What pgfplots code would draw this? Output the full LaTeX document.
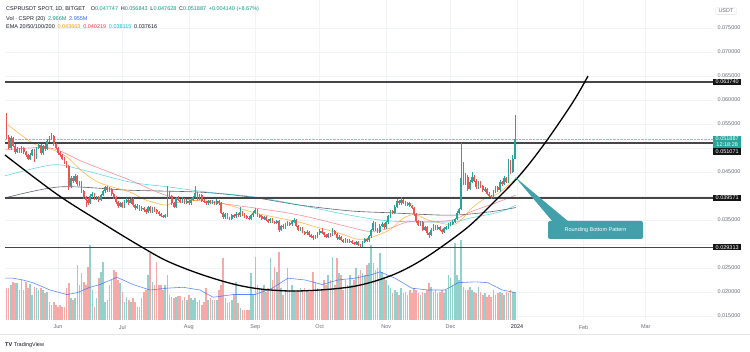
\documentclass[border=0pt]{standalone}
\usepackage{pgfplots}
\pgfplotsset{compat=1.18}
\usepackage{pgfplotstable}
\usepackage{fontspec}
\setmainfont{Liberation Sans}
\definecolor{upc}{RGB}{38,166,154}
\definecolor{dnc}{RGB}{239,83,80}
\definecolor{volup}{RGB}{146,210,204}
\definecolor{voldn}{RGB}{247,169,167}
\definecolor{ema20}{RGB}{255,152,0}
\definecolor{ema50}{RGB}{242,54,69}
\definecolor{ema100}{RGB}{0,188,212}
\definecolor{ema200}{RGB}{67,70,81}
\definecolor{volma}{RGB}{41,98,255}
\definecolor{gridc}{RGB}{240,243,250}
\definecolor{labc}{RGB}{106,109,120}
\definecolor{txt}{RGB}{19,23,34}
\definecolor{callc}{RGB}{66,160,170}
\definecolor{hdrg}{RGB}{8,153,129}
\definecolor{lvl}{RGB}{70,70,70}
\newcommand{\fs}{\fontsize{5.5}{6.5}\selectfont}

\pgfplotstableread{
d o h l c v
-24 569 573 518 523 3.5
-23 523 528 497 500 3.5
-22 500 524 496 520 3.9
-21 520 523 502 505 4.2
-20 505 509 488 492 4.1
-19 492 502 489 498 4.1
-18 498 501 490 493 3.3
-17 493 504 490 500 4.4
-16 500 502 488 491 3.3
-15 491 494 482 485 4.2
-14 485 488 474 478 3.5
-13 478 490 475 486 4.0
-12 486 498 483 495 2.8
-11 495 497 470 480 3.6
-10 480 503 477 500 3.5
-9 500 510 497 506 3.3
-8 506 508 486 490 3.5
-7 490 507 486 505 3.3
-6 505 508 494 498 3.0
-5 498 518 495 515 3.1
-4 515 524 512 520 2.0
-3 520 531 517 525 1.7
-2 525 527 504 508 2.0
-1 508 511 497 500 1.7
0 500 503 486 490 1.4
1 490 494 482 485 1.7
2 485 488 475 478 1.4
3 478 481 467 470 1.4
4 470 473 458 462 3.5
5 462 465 412 420 4.1
6 420 442 416 438 2.4
7 438 441 428 432 2.2
8 432 445 429 441 2.4
9 441 444 421 425 6.1
10 425 432 421 428 3.9
11 428 431 406 410 5.2
12 410 413 394 398 4.2
13 398 401 377 392 3.9
14 392 395 382 386 5.8
15 386 404 383 400 8.3
16 400 408 396 404 3.3
17 404 406 391 395 1.4
18 395 401 392 398 2.4
19 398 400 388 392 4.6
20 392 405 389 402 5.3
21 402 413 399 410 6.4
22 410 421 407 418 2.0
23 418 420 408 412 2.2
24 412 418 409 415 3.9
25 415 417 401 405 4.4
26 405 407 394 398 5.5
27 398 400 384 388 5.3
28 388 390 376 380 4.4
29 380 388 377 385 4.1
30 385 387 374 378 3.1
31 378 391 375 388 2.0
32 388 395 385 392 2.5
33 392 394 382 386 2.2
34 386 397 383 394 2.0
35 394 396 378 382 2.4
36 382 384 371 375 2.0
37 375 384 372 380 1.4
38 380 382 368 372 1.4
39 372 379 369 376 2.4
40 376 378 366 370 3.1
41 370 372 363 366 3.3
42 366 380 364 377 5.0
43 377 379 364 368 7.4
44 368 378 365 375 4.2
45 375 377 367 370 3.9
46 370 372 363 366 6.4
47 366 368 359 362 3.9
48 362 364 356 359 3.9
49 359 361 354 357 3.3
50 357 363 354 360 3.9
51 360 421 357 405 5.0
52 405 410 396 400 2.8
53 400 403 382 385 2.5
54 385 388 375 378 2.4
55 378 398 375 395 2.5
56 395 399 389 392 2.6
57 392 394 385 388 2.6
58 388 397 385 394 2.2
59 394 396 383 386 2.5
60 386 393 383 390 2.2
61 390 392 382 385 2.8
62 385 395 382 392 2.4
63 392 401 389 398 2.2
64 398 421 395 406 2.4
65 406 409 392 395 2.0
66 395 405 392 402 2.2
67 402 404 387 390 1.7
68 390 393 385 388 2.0
69 388 390 382 385 3.5
70 385 392 382 389 2.2
71 389 391 383 386 2.4
72 386 391 383 388 2.2
73 388 390 381 384 2.2
74 384 393 381 390 2.2
75 390 392 382 385 3.3
76 385 387 362 365 3.9
77 365 367 352 356 6.8
78 356 365 353 362 2.4
79 362 364 352 355 1.9
80 355 357 349 352 2.0
81 352 363 350 360 2.2
82 360 362 355 358 2.8
83 358 366 355 363 4.2
84 363 365 357 360 1.9
85 360 377 357 366 1.3
86 366 368 359 362 1.1
87 362 364 355 358 1.1
88 358 360 352 355 1.1
89 355 358 350 353 1.1
90 353 363 350 360 5.2
91 360 368 357 365 2.8
92 365 375 362 370 6.9
93 370 372 357 360 3.9
94 360 363 355 358 3.5
95 358 360 349 352 3.3
96 352 359 349 356 3.9
97 356 358 347 350 3.1
98 350 352 344 347 3.5
99 347 355 344 352 6.8
100 352 354 343 346 4.4
101 346 348 341 344 5.8
102 344 351 341 348 5.3
103 348 350 325 330 7.5
104 330 340 327 338 3.5
105 338 341 332 335 2.8
106 335 343 332 340 3.3
107 340 348 337 344 5.7
108 344 346 338 341 3.3
109 341 350 338 347 3.9
110 347 354 344 350 3.3
111 350 352 335 338 3.1
112 338 340 327 330 3.3
113 330 336 327 333 3.5
114 333 335 322 325 3.3
115 325 327 319 322 3.5
116 322 329 319 326 3.3
117 326 328 315 318 3.1
118 318 321 313 316 3.3
119 316 318 309 312 5.3
120 312 319 310 316 4.2
121 316 325 313 322 3.5
122 322 331 319 328 3.3
123 328 333 321 324 3.3
124 324 326 315 318 4.4
125 318 320 312 315 3.9
126 315 323 312 320 5.0
127 320 323 315 318 4.4
128 318 333 316 328 6.9
129 328 330 318 320 3.9
130 320 322 309 312 6.8
131 312 318 309 315 5.2
132 315 317 306 308 5.0
133 308 310 303 306 3.3
134 306 312 303 309 4.4
135 309 311 302 305 3.9
136 305 310 302 307 5.0
137 307 309 300 303 3.9
138 303 305 298 300 4.4
139 300 307 297 304 5.7
140 304 306 295 298 5.0
141 298 300 294 297 5.5
142 297 307 294 305 5.2
143 305 312 302 310 5.0
144 310 312 304 308 6.1
145 308 318 305 316 6.3
146 316 332 313 330 8.3
147 330 348 327 344 6.3
148 344 346 327 330 5.5
149 330 333 322 325 5.7
150 325 341 322 338 7.4
151 338 345 335 342 5.3
152 342 344 332 335 4.6
153 335 348 332 345 4.4
154 345 361 342 358 3.9
155 358 371 355 368 3.5
156 368 370 362 365 3.0
157 365 381 362 378 3.3
158 378 393 375 390 3.1
159 390 392 382 385 2.8
160 385 398 382 392 3.5
161 392 394 383 386 3.0
162 386 389 380 383 3.1
163 383 388 380 385 2.8
164 385 387 377 380 3.3
165 380 382 373 376 3.0
166 376 378 359 362 3.5
167 362 364 344 348 3.3
168 348 350 337 340 3.0
169 340 348 337 345 2.8
170 345 347 327 330 3.1
171 330 338 327 335 3.0
172 335 337 319 322 3.3
173 322 324 313 318 4.1
174 318 333 316 330 3.6
175 330 341 327 338 3.1
176 338 340 329 332 3.3
177 332 339 329 336 3.0
178 336 338 327 330 3.1
179 330 332 321 325 3.3
180 325 336 322 333 3.0
181 333 338 330 335 3.3
182 335 343 332 340 5.0
183 340 346 337 343 4.6
184 343 349 340 346 3.9
185 346 355 343 352 8.5
186 352 368 349 365 5.0
187 365 375 362 372 4.4
188 372 510 370 438 8.8
189 438 470 422 425 3.6
190 425 448 422 440 3.3
191 440 444 411 415 3.3
192 415 433 412 430 3.6
193 430 450 427 440 3.3
194 440 443 429 432 3.1
195 432 435 414 418 3.0
196 418 431 415 428 3.6
197 428 431 417 420 3.1
198 420 423 408 412 2.8
199 412 418 409 415 3.0
200 415 417 402 405 2.5
201 405 408 397 400 2.8
202 400 402 394 398 2.5
203 398 413 395 410 3.3
204 410 421 407 418 2.8
205 418 420 409 412 3.0
206 412 433 409 430 3.1
207 430 432 421 425 3.0
208 425 441 422 438 2.8
209 438 440 427 430 3.1
210 430 478 427 468 3.0
211 468 475 446 450 3.3
212 450 485 447 477 3.1
213 477.47 568.43 476.28 518.87 3.0
}\candles

\begin{document}
\begin{tikzpicture}
\path[use as bounding box] (0,0) rectangle (750pt,351pt);
\pgfplotsset{base/.style={at={(5pt,31pt)}, anchor=south west, scale only axis,
  width=708pt, height=320pt, xmin=-24.71, xmax=305.36}}
% grid and tick labels
\begin{axis}[base, ymin=0.014167, ymax=0.080833,
  axis line style={draw=none}, tick style={draw=none},
  scaled y ticks=false, scaled x ticks=false,
  grid=major, major grid style={gridc, line width=0.6pt},
  ytick={0.015,0.020,0.025,0.030,0.035,0.040,0.045,0.050,0.055,0.060,0.065,0.070,0.075},
  yticklabels={0.015000,0.020000,0.025000,,0.035000,,0.045000,,0.055000,0.060000,0.065000,0.070000,0.075000},
  yticklabel pos=right,
  xtick={0,30,61,92,122,153,183,214,245,274},
  xticklabels={Jun,Jul,Aug,Sep,Oct,Nov,Dec,{\textcolor{txt}{2024}},Feb,Mar},
  tick label style={font=\fs, text=labc},
  xticklabel style={yshift=-1.5pt},
  yticklabel style={xshift=1pt}]
\addplot[draw=none] coordinates {(0,0.05)};
\end{axis}
% volume
\begin{axis}[base, ymin=0, ymax=35.2, hide axis]
\addplot[ycomb, mark=none, line width=1.6pt, draw=voldn,
  restrict expr to domain={\thisrow{c}-\thisrow{o}}{-1000:-0.0001}]
  table[x=d, y=v]{\candles};
\addplot[ycomb, mark=none, line width=1.6pt, draw=volup,
  restrict expr to domain={\thisrow{c}-\thisrow{o}}{0:1000}]
  table[x=d, y=v]{\candles};
\addplot[volma, line width=0.6pt, opacity=0.75] coordinates {
(-24.7,4.6) (-21,4.6) (-16.3,4.4) (-11.7,4.1) (-3.7,3.3) (4.2,2.8) (8.9,3.0) (14.9,3.6)
(19.6,3.9) (27.5,4.7) (35,3.9) (42.9,3.3) (50.8,3.5) (58.3,3.6) (66.2,3.3) (72.3,2.5)
(81.6,2.8) (91.8,2.8) (99.8,3.5) (107.2,4.6) (115.2,4.4) (123.1,3.9) (130.5,4.4)
(138.5,4.6) (146.4,5.0) (150.1,5.3) (157.1,4.6) (165,3.5) (172.5,3.3) (180.4,3.3)
(186.5,4.1) (194.4,4.2) (200.5,4.1) (207,3.3) (213.5,3.0)};
\end{axis}
% price
\begin{axis}[base, ymin=0.014167, ymax=0.080833, hide axis, clip=false]
% EMA lines
\addplot[ema200, line width=0.6pt, opacity=0.85, smooth] coordinates {
(-24.7,0.0396) (0.9,0.0419) (33.6,0.0412) (66.2,0.0408) (89.5,0.0398) (112.8,0.0381)
(136.1,0.0369) (154.8,0.0365) (182.8,0.0360) (201.4,0.0367) (213.5,0.0376)};
\addplot[ema100, line width=0.6pt, opacity=0.6, smooth] coordinates {
(-24.7,0.0442) (-2.3,0.0465) (11.7,0.0454) (33.6,0.0429) (51.3,0.0419) (69.9,0.0408)
(91.8,0.0398) (112.8,0.0381) (136.1,0.0360) (154.8,0.0348) (182.8,0.0346) (192.1,0.0354)
(206.1,0.0367) (213.5,0.0381)};
\addplot[ema50, line width=0.6pt, opacity=0.55, smooth] coordinates {
(-24.7,0.0496) (-3.7,0.0500) (11.7,0.0471) (33.6,0.0433) (51.3,0.0400) (69.9,0.0388)
(91.8,0.0375) (112.8,0.0360) (136.1,0.0335) (145.5,0.0326) (154.8,0.0333) (163,0.0346)
(172.5,0.0346) (183.7,0.0350) (193,0.0368) (203.7,0.0385) (213.5,0.0402)};
\addplot[ema20, line width=0.6pt, opacity=0.7, smooth] coordinates {
(-23.3,0.0548) (-11.7,0.0510) (-2.3,0.0496) (4.2,0.0481) (11.7,0.0450) (19.6,0.0427)
(33.6,0.0408) (40.6,0.0392) (49.9,0.0381) (52.2,0.0384) (62.5,0.0390) (68.5,0.0392)
(76.5,0.0385) (91.8,0.0365) (102.1,0.0355) (112.8,0.0345) (120.7,0.0335) (131.5,0.0322)
(139.4,0.0310) (145.5,0.0313) (154.8,0.0330) (160.4,0.0352) (166.4,0.0362) (172.5,0.0350)
(183.7,0.0340) (188.3,0.0352) (193,0.0375) (199.1,0.0395) (205.1,0.0405) (213.5,0.0437)};
% level lines
\addplot[lvl, line width=1.3pt] coordinates {(-24.71,0.06374) (305.36,0.06374)};
\addplot[lvl, line width=1.3pt] coordinates {(-24.71,0.051071) (305.36,0.051071)};
\addplot[lvl, line width=1.3pt] coordinates {(-24.71,0.039571) (305.36,0.039571)};
\addplot[lvl, line width=1.3pt] coordinates {(-24.71,0.029313) (305.36,0.029313)};
\addplot[upc!60, line width=0.4pt, densely dotted] coordinates {(-24.71,0.051887) (305.36,0.051887)};
% candles: wicks
\addplot[draw=none, mark=none, forget plot,
  restrict expr to domain={\thisrow{c}-\thisrow{o}}{-1000:-0.0001},
  error bars/.cd, y dir=both, y explicit, error mark=none,
  error bar style={draw=dnc, line width=0.6pt, solid}]
  table[x=d, y expr={(\thisrow{h}+\thisrow{l})/20000},
        y error expr={(\thisrow{h}-\thisrow{l})/20000}]{\candles};
\addplot[draw=none, mark=none, forget plot,
  restrict expr to domain={\thisrow{c}-\thisrow{o}}{0:1000},
  error bars/.cd, y dir=both, y explicit, error mark=none,
  error bar style={draw=upc, line width=0.6pt, solid}]
  table[x=d, y expr={(\thisrow{h}+\thisrow{l})/20000},
        y error expr={(\thisrow{h}-\thisrow{l})/20000}]{\candles};
% candles: bodies
\addplot[draw=none, mark=none, forget plot,
  restrict expr to domain={\thisrow{c}-\thisrow{o}}{-1000:-0.0001},
  error bars/.cd, y dir=both, y explicit, error mark=none,
  error bar style={draw=dnc, line width=1.75pt, solid}]
  table[x=d, y expr={(\thisrow{o}+\thisrow{c})/20000},
        y error expr={(\thisrow{o}-\thisrow{c})/20000}]{\candles};
\addplot[draw=none, mark=none, forget plot,
  restrict expr to domain={\thisrow{c}-\thisrow{o}}{0:1000},
  error bars/.cd, y dir=both, y explicit, error mark=none,
  error bar style={draw=upc, line width=1.75pt, solid}]
  table[x=d, y expr={(\thisrow{o}+\thisrow{c})/20000},
        y error expr={(\thisrow{c}-\thisrow{o})/20000}]{\candles};
% rounding bottom curve
\addplot[black, line width=1.3pt, smooth, tension=0.55] coordinates {
(-24.71,0.04854) (0,0.04021) (22.84,0.03375) (38.23,0.02958) (50.82,0.02646) (66.2,0.02375)
(81.59,0.02167) (94.17,0.02063) (108.16,0.02021) (122.14,0.02042) (136.13,0.02104)
(146.39,0.02208) (157.11,0.02375) (166.43,0.02583) (176.69,0.02875) (191.14,0.03354)
(202.33,0.03833) (215.38,0.04438) (227.04,0.05104) (240.09,0.05958) (247.09,0.06500)};
% price tags
\tikzset{tag/.style={fill=black!92, text=white, font=\fs, inner xsep=2.5pt, inner ysep=1.1pt, anchor=west}}
\node[tag] at (axis cs:305.36,0.06374) {0.063740};
\node[tag] at (axis cs:305.36,0.039571) {0.039571};
\node[tag] at (axis cs:305.36,0.029313) {0.029313};
\node[tag] at (axis cs:305.36,0.04927) {0.051071};
\node[tag, fill=upc, align=center, inner ysep=0.8pt] at (axis cs:305.36,0.05135) {0.051887\\12:18:28};
\end{axis}
% callout
\fill[callc] (515pt,174pt) -- (553pt,129pt) -- (569pt,129pt) -- cycle;
\fill[callc, rounded corners=2pt] (548pt,112pt) rectangle (643pt,130pt);
\node[text=white, font=\fs] at (595.5pt,121pt) {Rounding Bottom Pattern};
% header
\node[anchor=west, font=\fs, text=txt, inner sep=0pt] at (6pt,342pt)
  {CSPRUSDT SPOT, 1D, BITGET\quad O\textcolor{hdrg}{0.047747}\enspace H\textcolor{hdrg}{0.056843}\enspace L\textcolor{hdrg}{0.047628}\enspace C\textcolor{hdrg}{0.051887}\enspace \textcolor{hdrg}{+0.004140 (+8.67\%)}};
\node[anchor=west, font=\fs, text=txt, inner sep=0pt] at (6pt,332pt)
  {Vol · CSPR (20)\enspace \textcolor{hdrg}{2.966M}\enspace \textcolor{volma}{2.955M}};
\node[anchor=west, font=\fs, text=txt, inner sep=0pt] at (6pt,324pt)
  {EMA 20/50/100/200\enspace \textcolor{ema20}{0.043663}\enspace \textcolor{ema50}{0.040219}\enspace \textcolor{ema100}{0.038115}\enspace 0.037616};
\node[font=\fs, text=labc, draw=gray!25, rounded corners=1pt, inner xsep=3pt, inner ysep=1.5pt] at (726pt,340pt) {USDT};
% footer
\draw[gray!20, line width=0.5pt] (0pt,17pt) -- (750pt,17pt);
\node[anchor=west, font=\fs, text=txt, inner sep=0pt] at (5pt,6pt) {\textbf{TV}\ TradingView};
\end{tikzpicture}
\end{document}
